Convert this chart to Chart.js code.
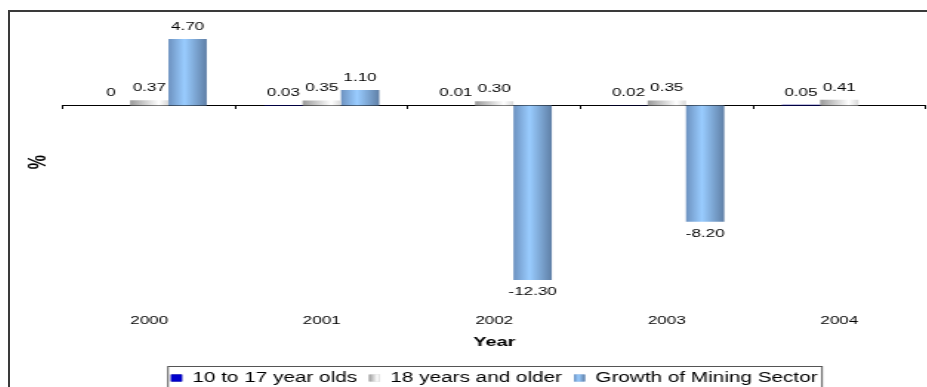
<!DOCTYPE html>
<html>
<head>
<meta charset="utf-8">
<title>Youth and adults vs mining growth</title>
<script src="https://cdn.jsdelivr.net/npm/chart.js@4.4.1/dist/chart.umd.min.js"></script>
<style>
  html, body { margin: 0; padding: 0; background: #fff; overflow: hidden; }
  #marco {
    position: absolute; left: 8px; top: 10px;
    width: 1000px; height: 500px;
    border-left: 2px solid #3a3a3a; border-top: 2px solid #3a3a3a;
  }
  /* el grafico se dibuja angosto y se estira a lo ancho */
  #estirado {
    position: absolute; left: 0; top: 0;
    transform: scaleX(1.48); transform-origin: 0 0;
  }
  #grafico { display: block; }
</style>
</head>
<body>
<div id="marco">
  <div id="estirado">
    <canvas id="grafico" width="635" height="383"></canvas>
  </div>
</div>
<script>
// datos
const anos = ['2000', '2001', '2002', '2003', '2004'];
const jovenes = [0, 0.03, 0.01, 0.02, 0.05];
const adultos = [0.37, 0.35, 0.30, 0.35, 0.41];
const mineria = [4.70, 1.10, -12.30, -8.20, null];
const nombresSeries = ['10 to 17 year olds', '18 years and older', 'Growth of Mining Sector'];
const yMin = -14;
const yMax = 6;

// colores de cada serie (paradas del degradado horizontal)
const estilos = [
  { solido: '#000080', leyenda: '#0000cc', paradas: null },
  { solido: '#d0d0d0', paradas: [[0, '#9a9a9a'], [0.75, '#ffffff'], [1, '#d8d8d8']] },
  { solido: '#8db4e2', paradas: [[0, '#6d92c0'], [0.42, '#99ccff'], [1, '#5f7fa6']] }
];

const fuente = '"Liberation Sans", Arial, sans-serif';
Chart.defaults.font.family = fuente;
Chart.defaults.color = '#000';

function degradado(ctx, x0, x1, paradas) {
  const g = ctx.createLinearGradient(x0, 0, x1, 0);
  paradas.forEach(p => g.addColorStop(p[0], p[1]));
  return g;
}

function formato(v) {
  return v === 0 ? '0' : v.toFixed(2);
}

// pinta las barras con degradado antes de dibujarlas
const barrasDegradado = {
  id: 'barrasDegradado',
  beforeDatasetsDraw(chart) {
    const ctx = chart.ctx;
    chart.data.datasets.forEach((ds, i) => {
      const est = estilos[i];
      chart.getDatasetMeta(i).data.forEach(el => {
        const fill = est.paradas
          ? degradado(ctx, el.x - el.width / 2, el.x + el.width / 2, est.paradas)
          : est.solido;
        el.options = Object.assign({}, el.options, { backgroundColor: fill });
      });
    });
  }
};

// etiquetas de valor encima / debajo de cada barra
const etiquetasValor = {
  id: 'etiquetasValor',
  afterDatasetsDraw(chart) {
    const ctx = chart.ctx;
    ctx.save();
    ctx.font = '11.5px ' + fuente;
    ctx.fillStyle = '#000';
    ctx.textAlign = 'center';
    ctx.textBaseline = 'middle';
    chart.data.datasets.forEach((ds, i) => {
      chart.getDatasetMeta(i).data.forEach((el, j) => {
        const v = ds.data[j];
        if (v === null || v === undefined) return;
        const y = v >= 0 ? el.y - 12.3 : el.y + 12.3;
        ctx.fillText(formato(v), el.x, y);
      });
    });
    ctx.restore();
  }
};

// marco de la leyenda y marcadores con degradado
const marcoLeyenda = {
  id: 'marcoLeyenda',
  afterDraw(chart) {
    const leg = chart.legend;
    if (!leg || !leg.legendHitBoxes.length) return;
    const ctx = chart.ctx;
    const cajas = leg.legendHitBoxes;
    const primera = cajas[0];
    const ultima = cajas[cajas.length - 1];
    const boxW = leg.options.labels.boxWidth;
    const boxH = leg.options.labels.boxHeight;
    const fs = leg.options.labels.font.size;

    ctx.save();
    cajas.forEach((hb, i) => {
      const est = estilos[i];
      const y0 = hb.top + (fs - boxH) / 2;
      ctx.fillStyle = est.paradas
        ? degradado(ctx, hb.left, hb.left + boxW, est.paradas)
        : est.leyenda;
      ctx.fillRect(hb.left, y0, boxW, boxH);
    });

    const centro = primera.top + fs / 2;
    const x0 = primera.left - 2;
    const x1 = ultima.left + ultima.width + 3;
    ctx.strokeStyle = '#555';
    ctx.lineWidth = 1;
    ctx.strokeRect(x0, Math.round(centro - 12.5) + 0.5, x1 - x0, 40);
    ctx.restore();
  }
};

const datasets = [jovenes, adultos, mineria].map((serie, i) => ({
  label: nombresSeries[i],
  data: serie,
  backgroundColor: estilos[i].solido,
  borderWidth: 0,
  categoryPercentage: 0.667,
  barPercentage: 1.0,
  xAxisID: 'x',
  yAxisID: 'y'
}));

new Chart(document.getElementById('grafico'), {
  type: 'bar',
  data: { labels: anos, datasets: datasets },
  plugins: [barrasDegradado, etiquetasValor, marcoLeyenda],
  options: {
    responsive: false,
    animation: false,
    events: [],
    layout: { padding: { top: 8.5, left: 0, right: 16.4, bottom: 0 } },
    scales: {
      // eje de categorias que cruza en cero, solo linea y marcas
      x: {
        type: 'category',
        position: { y: 0 },
        offset: true,
        ticks: { display: false },
        grid: { offset: true, drawOnChartArea: false, drawTicks: true, tickLength: 3, color: '#000' },
        border: { display: true, color: '#000', width: 1 }
      },
      // mismo eje abajo, con los anos y el titulo
      x2: {
        type: 'category',
        position: 'bottom',
        labels: anos,
        offset: true,
        grid: { display: false, drawTicks: false },
        border: { display: false },
        ticks: { padding: 10, font: { size: 11.5 }, color: '#000', maxRotation: 0 },
        title: {
          display: true, text: 'Year', color: '#000',
          font: { size: 13.5, weight: 'bold' },
          padding: { top: 0, bottom: 12.2 }
        },
        afterFit: scale => { scale.height = 59; }
      },
      y: {
        min: yMin,
        max: yMax,
        ticks: { display: false },
        grid: { display: false },
        border: { display: false },
        title: {
          display: true, text: '%', color: '#000',
          font: { size: 16, weight: 'bold' },
          padding: { top: 9.7, bottom: 0 }
        },
        afterFit: scale => { scale.width = 35.8; }
      }
    },
    plugins: {
      tooltip: { enabled: false },
      legend: {
        position: 'bottom',
        fullSize: false,
        labels: {
          boxWidth: 7.5,
          boxHeight: 7,
          padding: 8,
          color: '#000',
          font: { size: 14 }
        }
      }
    }
  }
});
</script>
</body>
</html>
